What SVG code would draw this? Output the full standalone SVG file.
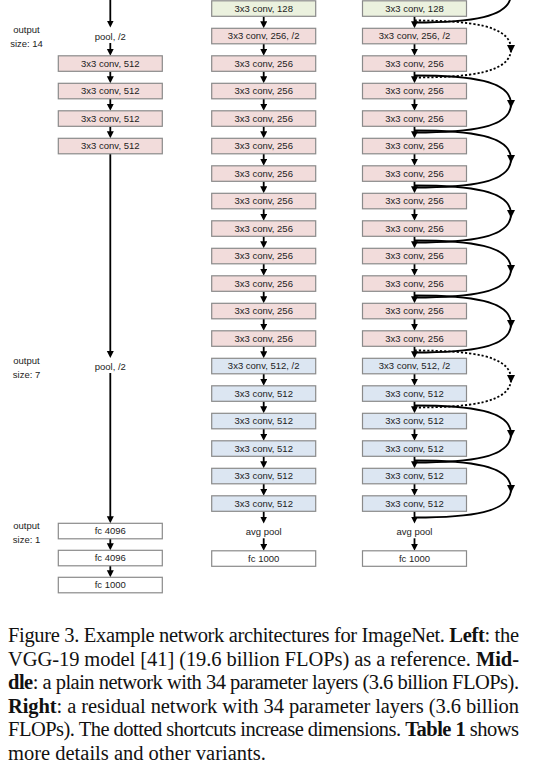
<svg xmlns="http://www.w3.org/2000/svg" width="551" height="773" viewBox="0 0 551 773">
<style>
.bx{stroke:#8a8a8a;stroke-width:1.2}
.pk{fill:#f2dcdb}.bl{fill:#dce6f2}.gr{fill:#ebf1de}.wh{fill:#ffffff}
.t{font-family:"Liberation Sans",Arial,sans-serif;font-size:9.5px;fill:#222;text-anchor:middle}
.lab{font-family:"Liberation Sans",Arial,sans-serif;font-size:9.5px;fill:#222;text-anchor:middle}
.ar{stroke:#000;stroke-width:1.8;fill:none;marker-end:url(#ah)}
.sc{stroke:#000;stroke-width:1.8;fill:none;marker-mid:url(#am)}
.dt{stroke-dasharray:2.2 2}
.cap{font-family:"Liberation Serif","Times New Roman",serif;font-size:20.5px;fill:#111}
.b{font-weight:bold}
</style>
<defs>
<marker id="ah" markerUnits="userSpaceOnUse" markerWidth="8" markerHeight="8" refX="4" refY="3.5" orient="auto"><path d="M0,0 L7,3.5 L0,7 z" fill="#000"/></marker>
<marker id="am" markerUnits="userSpaceOnUse" markerWidth="9" markerHeight="9" refX="4" refY="4" orient="auto"><path d="M0,0 L8,4 L0,8 z" fill="#000"/></marker>
</defs>
<rect width="551" height="773" fill="#fff"/>

<g id="connectors">
<!-- left column -->
<line class="ar" x1="110.3" y1="0" x2="110.3" y2="24.5"/>
<line class="ar" x1="110.3" y1="43" x2="110.3" y2="52.8"/>
<line class="ar" x1="110.3" y1="71.3" x2="110.3" y2="80.3"/>
<line class="ar" x1="110.3" y1="98.8" x2="110.3" y2="107.8"/>
<line class="ar" x1="110.3" y1="126.3" x2="110.3" y2="135.3"/>
<line class="ar" x1="110.3" y1="153.8" x2="110.3" y2="355"/>
<line class="ar" x1="110.3" y1="373" x2="110.3" y2="520.3"/>
<line class="ar" x1="110.3" y1="538.8" x2="110.3" y2="547.3"/>
<line class="ar" x1="110.3" y1="565.8" x2="110.3" y2="574.3"/>
<!-- middle column -->
<line class="ar" x1="263.7" y1="16.3" x2="263.7" y2="25.3"/>
<line class="ar" x1="263.7" y1="43.8" x2="263.7" y2="52.8"/>
<line class="ar" x1="263.7" y1="71.3" x2="263.7" y2="80.3"/>
<line class="ar" x1="263.7" y1="98.8" x2="263.7" y2="107.8"/>
<line class="ar" x1="263.7" y1="126.3" x2="263.7" y2="135.3"/>
<line class="ar" x1="263.7" y1="153.8" x2="263.7" y2="162.8"/>
<line class="ar" x1="263.7" y1="181.3" x2="263.7" y2="190.3"/>
<line class="ar" x1="263.7" y1="208.8" x2="263.7" y2="217.8"/>
<line class="ar" x1="263.7" y1="236.3" x2="263.7" y2="245.3"/>
<line class="ar" x1="263.7" y1="263.8" x2="263.7" y2="272.8"/>
<line class="ar" x1="263.7" y1="291.3" x2="263.7" y2="300.3"/>
<line class="ar" x1="263.7" y1="318.8" x2="263.7" y2="327.8"/>
<line class="ar" x1="263.7" y1="346.3" x2="263.7" y2="355.3"/>
<line class="ar" x1="263.7" y1="373.8" x2="263.7" y2="382.8"/>
<line class="ar" x1="263.7" y1="401.3" x2="263.7" y2="410.3"/>
<line class="ar" x1="263.7" y1="428.8" x2="263.7" y2="437.8"/>
<line class="ar" x1="263.7" y1="456.3" x2="263.7" y2="465.3"/>
<line class="ar" x1="263.7" y1="483.8" x2="263.7" y2="492.8"/>
<line class="ar" x1="263.7" y1="511.3" x2="263.7" y2="520.5"/>
<line class="ar" x1="263.7" y1="538.3" x2="263.7" y2="547.8"/>
<!-- right column -->
<line class="ar" x1="414.5" y1="16.3" x2="414.5" y2="25.3"/>
<line class="ar" x1="414.5" y1="43.8" x2="414.5" y2="52.8"/>
<line class="ar" x1="414.5" y1="71.3" x2="414.5" y2="80.3"/>
<line class="ar" x1="414.5" y1="98.8" x2="414.5" y2="107.8"/>
<line class="ar" x1="414.5" y1="126.3" x2="414.5" y2="135.3"/>
<line class="ar" x1="414.5" y1="153.8" x2="414.5" y2="162.8"/>
<line class="ar" x1="414.5" y1="181.3" x2="414.5" y2="190.3"/>
<line class="ar" x1="414.5" y1="208.8" x2="414.5" y2="217.8"/>
<line class="ar" x1="414.5" y1="236.3" x2="414.5" y2="245.3"/>
<line class="ar" x1="414.5" y1="263.8" x2="414.5" y2="272.8"/>
<line class="ar" x1="414.5" y1="291.3" x2="414.5" y2="300.3"/>
<line class="ar" x1="414.5" y1="318.8" x2="414.5" y2="327.8"/>
<line class="ar" x1="414.5" y1="346.3" x2="414.5" y2="355.3"/>
<line class="ar" x1="414.5" y1="373.8" x2="414.5" y2="382.8"/>
<line class="ar" x1="414.5" y1="401.3" x2="414.5" y2="410.3"/>
<line class="ar" x1="414.5" y1="428.8" x2="414.5" y2="437.8"/>
<line class="ar" x1="414.5" y1="456.3" x2="414.5" y2="465.3"/>
<line class="ar" x1="414.5" y1="483.8" x2="414.5" y2="492.8"/>
<line class="ar" x1="414.5" y1="511.3" x2="414.5" y2="520.5"/>
<line class="ar" x1="414.5" y1="538.3" x2="414.5" y2="547.8"/>
<!-- shortcuts -->
<path class="sc" d="M414.5,-34.5 C470,-34.5 511,-29.5 511,-6 C511,17.5 470,22.5 414.5,22.5"/>
<path class="sc dt" d="M414.5,20.5 C470,20.5 511,25.5 511,49 C511,72.5 470,77.5 414.5,77.5"/>
<path class="sc" d="M414.5,75.5 C470,75.5 511,80.5 511,104 C511,127.5 470,132.5 414.5,132.5"/>
<path class="sc" d="M414.5,130.5 C470,130.5 511,135.5 511,159 C511,182.5 470,187.5 414.5,187.5"/>
<path class="sc" d="M414.5,185.5 C470,185.5 511,190.5 511,214 C511,237.5 470,242.5 414.5,242.5"/>
<path class="sc" d="M414.5,240.5 C470,240.5 511,245.5 511,269 C511,292.5 470,297.5 414.5,297.5"/>
<path class="sc" d="M414.5,295.5 C470,295.5 511,300.5 511,324 C511,347.5 470,352.5 414.5,352.5"/>
<path class="sc dt" d="M414.5,350.5 C470,350.5 511,355.5 511,379 C511,402.5 470,407.5 414.5,407.5"/>
<path class="sc" d="M414.5,405.5 C470,405.5 511,410.5 511,434 C511,457.5 470,462.5 414.5,462.5"/>
<path class="sc" d="M414.5,460.5 C470,460.5 511,465.5 511,489 C511,512.5 470,517.5 414.5,517.5"/>
</g>

<!-- left column nodes -->
<g id="L-out14"><text class="lab" x="26.5" y="32.5">output</text><text class="lab" x="26.5" y="46.5">size: 14</text></g>
<g id="L-pool1"><text class="t" x="110.3" y="39.5">pool, /2</text></g>
<g id="L-c1"><rect class="bx pk" x="58.3" y="55.8" width="104" height="15.5"/><text class="t" x="110.3" y="66.9">3x3 conv, 512</text></g>
<g id="L-c2"><rect class="bx pk" x="58.3" y="83.3" width="104" height="15.5"/><text class="t" x="110.3" y="94.4">3x3 conv, 512</text></g>
<g id="L-c3"><rect class="bx pk" x="58.3" y="110.8" width="104" height="15.5"/><text class="t" x="110.3" y="121.9">3x3 conv, 512</text></g>
<g id="L-c4"><rect class="bx pk" x="58.3" y="138.3" width="104" height="15.5"/><text class="t" x="110.3" y="149.4">3x3 conv, 512</text></g>
<g id="L-out7"><text class="lab" x="26.5" y="363.5">output</text><text class="lab" x="26.5" y="377.5">size: 7</text></g>
<g id="L-pool2"><text class="t" x="110.3" y="369.5">pool, /2</text></g>
<g id="L-out1"><text class="lab" x="26.5" y="528.5">output</text><text class="lab" x="26.5" y="542.5">size: 1</text></g>
<g id="L-fc1"><rect class="bx wh" x="58.3" y="523.3" width="104" height="15.5"/><text class="t" x="110.3" y="534.4">fc 4096</text></g>
<g id="L-fc2"><rect class="bx wh" x="58.3" y="550.3" width="104" height="15.5"/><text class="t" x="110.3" y="561.4">fc 4096</text></g>
<g id="L-fc3"><rect class="bx wh" x="58.3" y="577.3" width="104" height="15.5"/><text class="t" x="110.3" y="588.4">fc 1000</text></g>

<!-- middle column nodes -->
<g id="M0"><rect class="bx gr" x="211.7" y="0.8" width="104" height="15.5"/><text class="t" x="263.7" y="11.9">3x3 conv, 128</text></g>
<g id="M1"><rect class="bx pk" x="211.7" y="28.3" width="104" height="15.5"/><text class="t" x="263.7" y="39.4">3x3 conv, 256, /2</text></g>
<g id="M2"><rect class="bx pk" x="211.7" y="55.8" width="104" height="15.5"/><text class="t" x="263.7" y="66.9">3x3 conv, 256</text></g>
<g id="M3"><rect class="bx pk" x="211.7" y="83.3" width="104" height="15.5"/><text class="t" x="263.7" y="94.4">3x3 conv, 256</text></g>
<g id="M4"><rect class="bx pk" x="211.7" y="110.8" width="104" height="15.5"/><text class="t" x="263.7" y="121.9">3x3 conv, 256</text></g>
<g id="M5"><rect class="bx pk" x="211.7" y="138.3" width="104" height="15.5"/><text class="t" x="263.7" y="149.4">3x3 conv, 256</text></g>
<g id="M6"><rect class="bx pk" x="211.7" y="165.8" width="104" height="15.5"/><text class="t" x="263.7" y="176.9">3x3 conv, 256</text></g>
<g id="M7"><rect class="bx pk" x="211.7" y="193.3" width="104" height="15.5"/><text class="t" x="263.7" y="204.4">3x3 conv, 256</text></g>
<g id="M8"><rect class="bx pk" x="211.7" y="220.8" width="104" height="15.5"/><text class="t" x="263.7" y="231.9">3x3 conv, 256</text></g>
<g id="M9"><rect class="bx pk" x="211.7" y="248.3" width="104" height="15.5"/><text class="t" x="263.7" y="259.4">3x3 conv, 256</text></g>
<g id="M10"><rect class="bx pk" x="211.7" y="275.8" width="104" height="15.5"/><text class="t" x="263.7" y="286.9">3x3 conv, 256</text></g>
<g id="M11"><rect class="bx pk" x="211.7" y="303.3" width="104" height="15.5"/><text class="t" x="263.7" y="314.4">3x3 conv, 256</text></g>
<g id="M12"><rect class="bx pk" x="211.7" y="330.8" width="104" height="15.5"/><text class="t" x="263.7" y="341.9">3x3 conv, 256</text></g>
<g id="M13"><rect class="bx bl" x="211.7" y="358.3" width="104" height="15.5"/><text class="t" x="263.7" y="369.4">3x3 conv, 512, /2</text></g>
<g id="M14"><rect class="bx bl" x="211.7" y="385.8" width="104" height="15.5"/><text class="t" x="263.7" y="396.9">3x3 conv, 512</text></g>
<g id="M15"><rect class="bx bl" x="211.7" y="413.3" width="104" height="15.5"/><text class="t" x="263.7" y="424.4">3x3 conv, 512</text></g>
<g id="M16"><rect class="bx bl" x="211.7" y="440.8" width="104" height="15.5"/><text class="t" x="263.7" y="451.9">3x3 conv, 512</text></g>
<g id="M17"><rect class="bx bl" x="211.7" y="468.3" width="104" height="15.5"/><text class="t" x="263.7" y="479.4">3x3 conv, 512</text></g>
<g id="M18"><rect class="bx bl" x="211.7" y="495.8" width="104" height="15.5"/><text class="t" x="263.7" y="506.9">3x3 conv, 512</text></g>
<g id="M-avg"><text class="t" x="263.7" y="534.5">avg pool</text></g>
<g id="M-fc"><rect class="bx wh" x="211.7" y="550.8" width="104" height="15.5"/><text class="t" x="263.7" y="561.9">fc 1000</text></g>

<!-- right column nodes -->
<g id="R0"><rect class="bx gr" x="362.5" y="0.8" width="104" height="15.5"/><text class="t" x="414.5" y="11.9">3x3 conv, 128</text></g>
<g id="R1"><rect class="bx pk" x="362.5" y="28.3" width="104" height="15.5"/><text class="t" x="414.5" y="39.4">3x3 conv, 256, /2</text></g>
<g id="R2"><rect class="bx pk" x="362.5" y="55.8" width="104" height="15.5"/><text class="t" x="414.5" y="66.9">3x3 conv, 256</text></g>
<g id="R3"><rect class="bx pk" x="362.5" y="83.3" width="104" height="15.5"/><text class="t" x="414.5" y="94.4">3x3 conv, 256</text></g>
<g id="R4"><rect class="bx pk" x="362.5" y="110.8" width="104" height="15.5"/><text class="t" x="414.5" y="121.9">3x3 conv, 256</text></g>
<g id="R5"><rect class="bx pk" x="362.5" y="138.3" width="104" height="15.5"/><text class="t" x="414.5" y="149.4">3x3 conv, 256</text></g>
<g id="R6"><rect class="bx pk" x="362.5" y="165.8" width="104" height="15.5"/><text class="t" x="414.5" y="176.9">3x3 conv, 256</text></g>
<g id="R7"><rect class="bx pk" x="362.5" y="193.3" width="104" height="15.5"/><text class="t" x="414.5" y="204.4">3x3 conv, 256</text></g>
<g id="R8"><rect class="bx pk" x="362.5" y="220.8" width="104" height="15.5"/><text class="t" x="414.5" y="231.9">3x3 conv, 256</text></g>
<g id="R9"><rect class="bx pk" x="362.5" y="248.3" width="104" height="15.5"/><text class="t" x="414.5" y="259.4">3x3 conv, 256</text></g>
<g id="R10"><rect class="bx pk" x="362.5" y="275.8" width="104" height="15.5"/><text class="t" x="414.5" y="286.9">3x3 conv, 256</text></g>
<g id="R11"><rect class="bx pk" x="362.5" y="303.3" width="104" height="15.5"/><text class="t" x="414.5" y="314.4">3x3 conv, 256</text></g>
<g id="R12"><rect class="bx pk" x="362.5" y="330.8" width="104" height="15.5"/><text class="t" x="414.5" y="341.9">3x3 conv, 256</text></g>
<g id="R13"><rect class="bx bl" x="362.5" y="358.3" width="104" height="15.5"/><text class="t" x="414.5" y="369.4">3x3 conv, 512, /2</text></g>
<g id="R14"><rect class="bx bl" x="362.5" y="385.8" width="104" height="15.5"/><text class="t" x="414.5" y="396.9">3x3 conv, 512</text></g>
<g id="R15"><rect class="bx bl" x="362.5" y="413.3" width="104" height="15.5"/><text class="t" x="414.5" y="424.4">3x3 conv, 512</text></g>
<g id="R16"><rect class="bx bl" x="362.5" y="440.8" width="104" height="15.5"/><text class="t" x="414.5" y="451.9">3x3 conv, 512</text></g>
<g id="R17"><rect class="bx bl" x="362.5" y="468.3" width="104" height="15.5"/><text class="t" x="414.5" y="479.4">3x3 conv, 512</text></g>
<g id="R18"><rect class="bx bl" x="362.5" y="495.8" width="104" height="15.5"/><text class="t" x="414.5" y="506.9">3x3 conv, 512</text></g>
<g id="R-avg"><text class="t" x="414.5" y="534.5">avg pool</text></g>
<g id="R-fc"><rect class="bx wh" x="362.5" y="550.8" width="104" height="15.5"/><text class="t" x="414.5" y="561.9">fc 1000</text></g>

<!-- caption -->
<g id="caption">
<text class="cap" x="8" y="642" textLength="511" lengthAdjust="spacing">Figure 3. Example network architectures for ImageNet. <tspan class="b">Left</tspan>: the</text>
<text class="cap" x="8" y="665.5" textLength="511" lengthAdjust="spacing">VGG-19 model [41] (19.6 billion FLOPs) as a reference.  <tspan class="b">Mid-</tspan></text>
<text class="cap" x="8" y="689" textLength="511" lengthAdjust="spacing"><tspan class="b">dle</tspan>: a plain network with 34 parameter layers (3.6 billion FLOPs).</text>
<text class="cap" x="8" y="712.5" textLength="511" lengthAdjust="spacing"><tspan class="b">Right</tspan>: a residual network with 34 parameter layers (3.6 billion</text>
<text class="cap" x="8" y="736" textLength="511" lengthAdjust="spacing">FLOPs). The dotted shortcuts increase dimensions. <tspan class="b">Table 1</tspan> shows</text>
<text class="cap" x="8" y="759.5">more details and other variants.</text>
</g>
</svg>
